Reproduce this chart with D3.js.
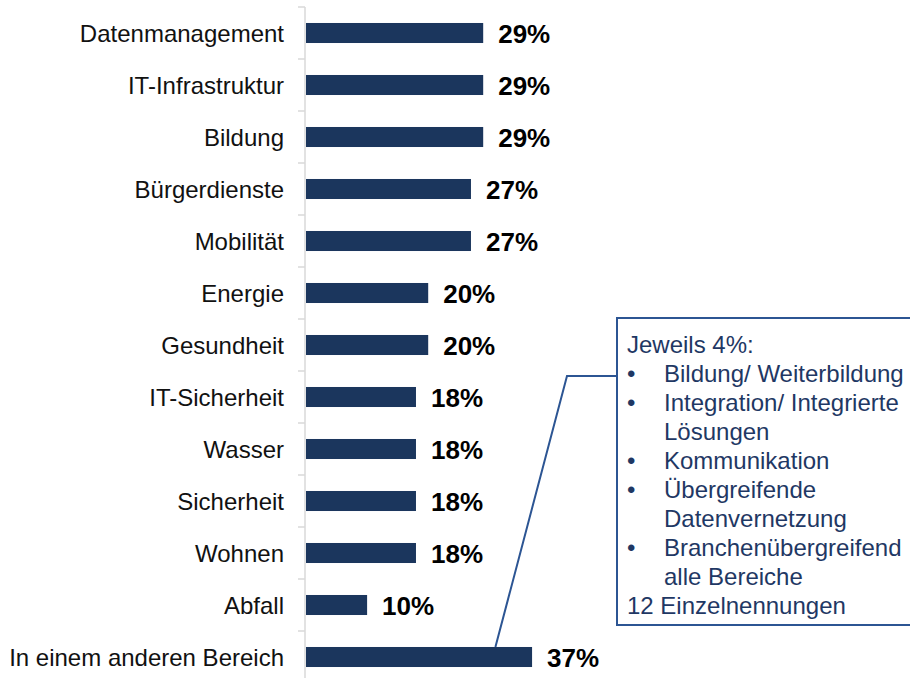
<!DOCTYPE html>
<html>
<head>
<meta charset="utf-8">
<script src="https://cdn.jsdelivr.net/npm/d3@7"></script>
<style>
  body { margin: 0; background: #fff; }
  text { font-family: Arial, "Liberation Sans", sans-serif; }
</style>
</head>
<body>
<script>
// data
const categories = ["Datenmanagement", "IT-Infrastruktur", "Bildung", "Bürgerdienste", "Mobilität",
  "Energie", "Gesundheit", "IT-Sicherheit", "Wasser", "Sicherheit", "Wohnen", "Abfall",
  "In einem anderen Bereich"];
const values = [29, 29, 29, 27, 27, 20, 20, 18, 18, 18, 18, 10, 37];
const calloutTitle = "Jeweils 4%:";
const calloutItems = [["Bildung/ Weiterbildung"], ["Integration/ Integrierte", "Lösungen"],
  ["Kommunikation"], ["Übergreifende", "Datenvernetzung"], ["Branchenübergreifend", "alle Bereiche"]];
const calloutFooter = "12 Einzelnennungen";

const w = 910;
const h = 678;
const barColor = "#1b365d";
const noteColor = "#1f3864";

const svg = d3.select("body")
  .append("svg")
  .attr("width", w)
  .attr("height", h);

const y = d3.scaleBand()
  .domain(categories)
  .range([7, 683])
  .paddingInner(0.615)
  .paddingOuter(0.3075);

const x = d3.scaleLinear()
  .domain([0, 100])
  .range([306, 917]);

const gap = y.step() * y.paddingInner();

// axis line with ticks between the bands
const axis = svg.append("g");
axis.append("line")
  .attr("x1", 305).attr("x2", 305)
  .attr("y1", y.range()[0]).attr("y2", y.range()[1])
  .style("stroke", "#d9d9d9")
  .style("stroke-width", 1.5);

axis.selectAll("line.tick")
  .data(categories)
  .enter()
  .append("line")
  .attr("class", "tick")
  .attr("x1", 298).attr("x2", 305)
  .attr("y1", d => y(d) - gap / 2)
  .attr("y2", d => y(d) - gap / 2)
  .style("stroke", "#d9d9d9")
  .style("stroke-width", 1.5);

// bars
const data = categories.map((c, i) => ({ c, v: values[i] }));

svg.selectAll("rect.bar")
  .data(data)
  .enter()
  .append("rect")
  .attr("class", "bar")
  .attr("x", x(0))
  .attr("y", d => y(d.c))
  .attr("width", d => x(d.v) - x(0))
  .attr("height", y.bandwidth())
  .style("fill", barColor);

// category labels
svg.selectAll("text.cat")
  .data(data)
  .enter()
  .append("text")
  .attr("class", "cat")
  .attr("x", 284)
  .attr("y", d => y(d.c) + y.bandwidth() / 2)
  .attr("dy", "0.36em")
  .attr("text-anchor", "end")
  .style("font-size", "24px")
  .style("fill", "#111")
  .text(d => d.c);

// value labels
svg.selectAll("text.val")
  .data(data)
  .enter()
  .append("text")
  .attr("class", "val")
  .attr("x", d => x(d.v) + 15)
  .attr("y", d => y(d.c) + y.bandwidth() / 2)
  .attr("dy", "0.37em")
  .style("font-size", "26px")
  .style("font-weight", "bold")
  .style("fill", "#000")
  .text(d => d.v + "%");

// callout for the last bar
const last = categories[categories.length - 1];
const box = { x: 617, y: 318, w: 300, h: 307 };
const elbow = { x: 567, y: 376 };

svg.append("polyline")
  .attr("points", [[box.x, elbow.y], [elbow.x, elbow.y], [x(31), y(last)]].map(p => p.join(",")).join(" "))
  .style("fill", "none")
  .style("stroke", "#2c5593")
  .style("stroke-width", 2);

svg.append("rect")
  .attr("x", box.x)
  .attr("y", box.y)
  .attr("width", box.w)
  .attr("height", box.h)
  .style("fill", "#fff")
  .style("stroke", "#2c5593")
  .style("stroke-width", 2);

const lineH = 29;
const note = svg.append("g")
  .style("font-size", "24px")
  .style("fill", noteColor);

let row = 0;
const baseY = 353;
note.append("text").attr("x", 627).attr("y", baseY).text(calloutTitle);
row++;
calloutItems.forEach(item => {
  note.append("text").attr("x", 627).attr("y", baseY + row * lineH).text("•");
  item.forEach(line => {
    note.append("text").attr("x", 664).attr("y", baseY + row * lineH).text(line);
    row++;
  });
});
note.append("text").attr("x", 627).attr("y", baseY + row * lineH).text(calloutFooter);
</script>
</body>
</html>
